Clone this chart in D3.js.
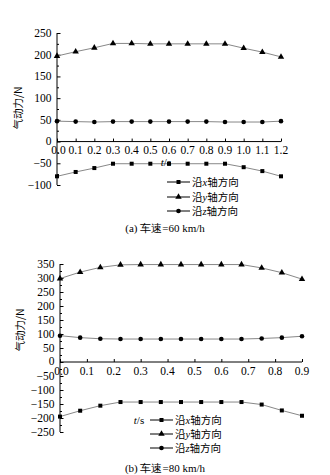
<!DOCTYPE html>
<html><head><meta charset="utf-8">
<script src="https://cdn.jsdelivr.net/npm/d3@7"></script>
<style>body{margin:0;background:#fff}svg{display:block}</style>
</head><body>
<script>
// Panel (a): speed 60 km/h
const timeA = [0,0.1,0.2,0.3,0.4,0.5,0.6,0.7,0.8,0.9,1.0,1.1,1.2];
const xForceA = [-80,-70,-61,-51,-51,-51,-51,-51,-51,-51,-59,-68,-80];
const yForceA = [197,207,216,226,226,225,225,225,225,225,215,206,195];
const zForceA = [47,46,45,46,46,46,46,46,46,45,45,45,47];
const yTicksA = [250,200,150,100,50,0,-50,-100];
const xTicksA = [0,0.1,0.2,0.3,0.4,0.5,0.6,0.7,0.8,0.9,1.0,1.1,1.2];
// Panel (b): speed 80 km/h
const timeB = [0,0.075,0.15,0.225,0.3,0.375,0.45,0.525,0.6,0.675,0.75,0.825,0.9];
const xForceB = [-195,-174,-156,-143,-143,-143,-143,-143,-143,-143,-152,-173,-192];
const yForceB = [298,321,338,347,348,348,348,348,348,348,336,319,296];
const zForceB = [94,87,83,82,82,82,82,82,82,82,84,87,92];
const yTicksB = [350,300,250,200,150,100,50,0,-50,-100,-150,-200,-250];
const xTicksB = [0,0.1,0.2,0.3,0.4,0.5,0.6,0.7,0.8,0.9];
const seriesNames = ["x","y","z"];
const captions = ["(a) 车速=60 km/h","(b) 车速=80 km/h"];

const svg = d3.select("body").append("svg").attr("width",330).attr("height",475);
const serif = "'Liberation Serif','Times New Roman',serif";
const cjk = "'Noto Sans CJK SC',sans-serif";
const fmtY = d => d < 0 ? "\u2212" + Math.abs(d) : String(d);

function marker(g, type, cx, cy){
  if(type==="x") g.append("rect").attr("x",cx-2).attr("y",cy-2).attr("width",4).attr("height",4).attr("fill","#000");
  else if(type==="y") g.append("path").attr("d",d3.symbol(d3.symbolTriangle,18)()).attr("transform",`translate(${cx},${cy})`).attr("fill","#000");
  else g.append("circle").attr("cx",cx).attr("cy",cy).attr("r",2.3).attr("fill","#000");
}

function panel(cfg){
  const g = svg.append("g");
  const x = d3.scaleLinear().domain(cfg.xd).range(cfg.xr);
  const y = d3.scaleLinear().domain(cfg.yd).range(cfg.yr);
  // y axis
  const yAx = g.append("g").attr("transform",`translate(${cfg.xr[0]},0)`)
    .call(d3.axisRight(y).tickValues(cfg.yTicks).tickSize(3.5).tickFormat(""));
  yAx.select(".domain").attr("stroke","#000").attr("d",`M0,${cfg.yr[1]}V${cfg.yr[0]}`);
  yAx.selectAll(".tick line").attr("stroke","#000");
  const minor = [];
  for(let v=cfg.yd[0]+25; v<cfg.yd[1]; v+=50) minor.push(v);
  g.append("g").attr("transform",`translate(${cfg.xr[0]},0)`)
    .call(d3.axisRight(y).tickValues(minor).tickSize(2).tickFormat(""))
    .call(s=>s.select(".domain").remove()).selectAll("line").attr("stroke","#000");
  g.selectAll(".ylab").data(cfg.yTicks).join("text")
    .attr("x",cfg.xr[0]-5.5).attr("y",d=>y(d)+(d===0?3:4)).attr("text-anchor","end")
    .attr("font-family",serif).attr("font-size",11.5).text(fmtY);
  // x axis at y=0
  const xAx = g.append("g").attr("transform",`translate(0,${y(0)})`)
    .call(d3.axisTop(x).tickValues(cfg.xTicks).tickSize(3).tickFormat(""));
  xAx.select(".domain").attr("stroke","#000").attr("d",`M${cfg.xr[0]},0H${cfg.xr[1]}`);
  xAx.selectAll(".tick line").attr("stroke","#000");
  g.selectAll(".xlab").data(cfg.xTicks).join("text")
    .attr("x",d=>x(d)+(d===0?1.5:0)).attr("y",y(0)+cfg.xlabDy).attr("text-anchor","middle")
    .attr("font-family",serif).attr("font-size",11.5).text(d=>d.toFixed(1));
  // y label
  g.append("text").attr("transform",`translate(${cfg.ylabX},${cfg.ylabY}) rotate(-90)`)
    .attr("text-anchor","middle").attr("font-family",cjk).attr("font-size",10.5)
    .text("气动力/N");
  // series
  const line = d3.line().x((d,i)=>x(cfg.t[i])).y(d=>y(d));
  cfg.series.forEach((vals,k)=>{
    g.append("path").attr("d",line(vals)).attr("fill","none").attr("stroke","#888").attr("stroke-width",1);
    vals.forEach((v,i)=>marker(g, seriesNames[k], x(cfg.t[i]), y(v)));
  });
  // t/s label
  const ts = g.append("text").attr("x",cfg.tsX).attr("y",cfg.tsY).attr("font-family",serif).attr("font-size",11).attr("text-anchor","middle");
  ts.append("tspan").attr("font-style","italic").text("t");
  ts.append("tspan").text("/s");
  // legend
  seriesNames.forEach((nm,k)=>{
    const ly = cfg.legY[k];
    g.append("line").attr("x1",cfg.legX).attr("x2",cfg.legX+23).attr("y1",ly).attr("y2",ly).attr("stroke","#000").attr("stroke-width",1);
    marker(g, nm, cfg.legX+11.5, ly);
    const t = g.append("text").attr("x",cfg.legX+25).attr("y",ly+4).attr("font-size",cfg.legFs).attr("font-family",cjk);
    t.append("tspan").text("沿");
    t.append("tspan").attr("font-family",serif).attr("font-style","italic").text(nm);
    t.append("tspan").text("轴方向");
  });
  // caption
  const c = g.append("text").attr("x",165).attr("y",cfg.capY).attr("text-anchor","middle").attr("font-size",11).attr("font-family",serif);
  c.text(cfg.caption);
}

panel({xd:[0,1.2], xr:[57,281], yd:[-100,250], yr:[185,33], yTicks:yTicksA, xTicks:xTicksA,
  xlabDy:12, t:timeA, series:[xForceA,yForceA,zForceA], ylabX:22, ylabY:108,
  tsX:166, tsY:166, legX:167, legY:[182,197,211], legFs:10.5, capY:232, caption:captions[0]});
panel({xd:[0,0.9], xr:[60,302], yd:[-250,350], yr:[432,264], yTicks:yTicksB, xTicks:xTicksB,
  xlabDy:13, t:timeB, series:[xForceB,yForceB,zForceB], ylabX:24, ylabY:330,
  tsX:139, tsY:424, legX:150, legY:[420,434,448], legFs:10.5, capY:472, caption:captions[1]});
</script>
</body></html>
